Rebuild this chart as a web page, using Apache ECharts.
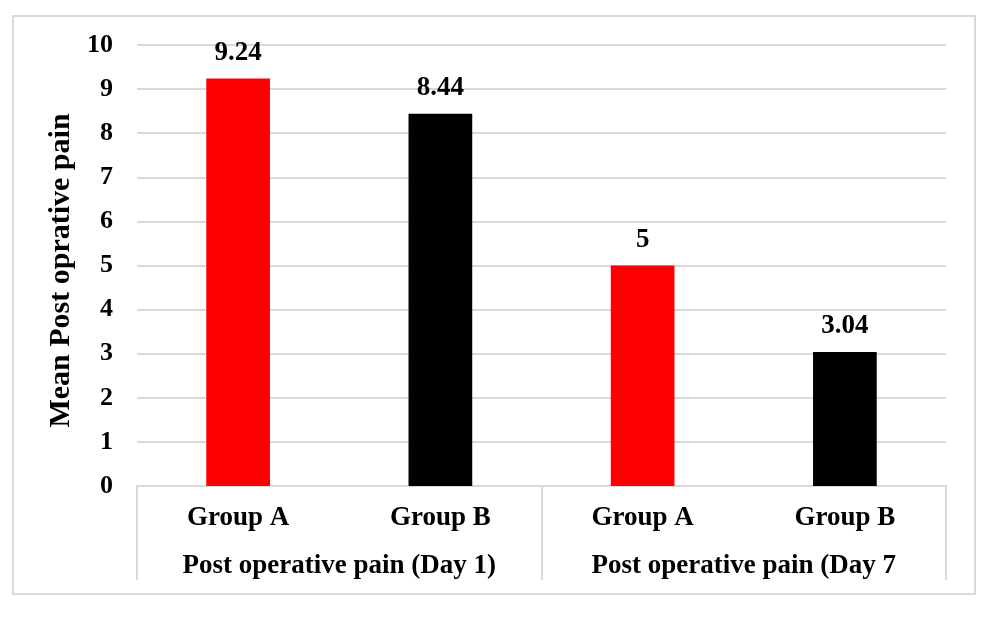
<!DOCTYPE html>
<html>
<head>
<meta charset="utf-8">
<script src="https://cdn.jsdelivr.net/npm/echarts@6/dist/echarts.min.js"></script>
<style>
  html, body { margin: 0; padding: 0; background: #fff; }
  #frame { position: absolute; left: 12px; top: 15px; width: 964px; height: 580px; box-sizing: border-box; border: 2px solid #d9d9d9; }
  #chart { position: absolute; left: 0; top: 0; width: 986px; height: 618px; }
</style>
</head>
<body>
<div id="frame"></div>
<div id="chart"></div>
<script>
const groups = ['Group A', 'Group B', 'Group A', 'Group B'];
const periods = ['Post operative pain (Day 1)', 'Post operative pain (Day 7'];
const meanPain = [9.24, 8.44, 5, 3.04];
const barColors = ['#ff0000', '#000000', '#ff0000', '#000000'];
const yTicks = { min: 0, max: 10, interval: 1 };
const yTitle = 'Mean Post oprative pain';

const FONT = '"Liberation Serif", "Times New Roman", serif';
const chart = echarts.init(document.getElementById('chart'));
chart.setOption({
  animation: false,
  backgroundColor: 'transparent',
  grid: { left: 137, right: 40, top: 45, bottom: 132, containLabel: false },
  xAxis: [
    {
      type: 'category', data: groups, position: 'bottom', gridIndex: 0,
      axisLine: { show: true, lineStyle: { color: '#d9d9d9', width: 2 } },
      axisTick: { show: false },
      axisLabel: { interval: 0, margin: 19, fontFamily: FONT, fontWeight: 'bold', fontSize: 27, color: '#000' }
    },
    {
      type: 'category', data: periods, position: 'bottom', gridIndex: 0,
      axisLine: { show: false },
      axisTick: { show: true, length: 94, lineStyle: { color: '#d9d9d9', width: 2 } },
      axisLabel: { interval: 0, margin: 67, fontFamily: FONT, fontWeight: 'bold', fontSize: 27, color: '#000' },
      splitLine: { show: false }
    }
  ],
  yAxis: {
    type: 'value', min: yTicks.min, max: yTicks.max, interval: yTicks.interval,
    name: yTitle, nameLocation: 'middle', nameGap: 58, nameRotate: 90,
    nameTextStyle: { fontFamily: FONT, fontWeight: 'bold', fontSize: 30, color: '#000', padding: [0, 10, 0, 0] },
    axisLine: { show: false }, axisTick: { show: false },
    axisLabel: { margin: 24, fontFamily: FONT, fontWeight: 'bold', fontSize: 26, color: '#000' },
    splitLine: { lineStyle: { color: '#d9d9d9', width: 2 } }
  },
  series: [{
    type: 'bar', xAxisIndex: 0, barWidth: '31.5%',
    data: meanPain.map((v, i) => ({ value: v, itemStyle: { color: barColors[i] } })),
    label: { show: true, position: 'top', distance: 12, fontFamily: FONT, fontWeight: 'bold', fontSize: 27, color: '#000' }
  }]
});
</script>
</body>
</html>
